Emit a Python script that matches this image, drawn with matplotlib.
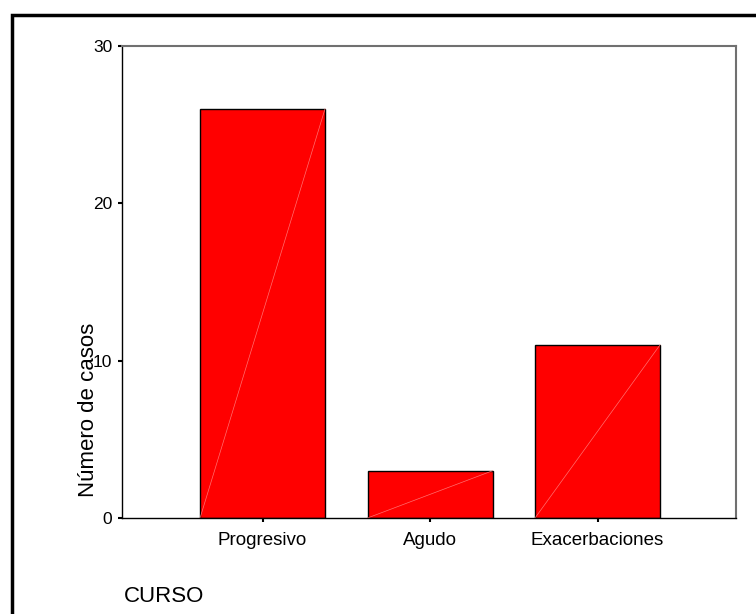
import matplotlib.pyplot as plt
from matplotlib.patches import Rectangle

categories = ['Progresivo', 'Agudo', 'Exacerbaciones']
counts = [26, 3, 11]
y_ticks = [0, 10, 20, 30]

plt.rcParams['font.family'] = ['Liberation Sans', 'DejaVu Sans']

fig = plt.figure(figsize=(7.56, 6.14), dpi=100)
ax = fig.add_axes([0.1614, 0.1564, 0.8122, 0.7687])

x = list(range(len(categories)))
width = 0.746
ax.bar(x, counts, width=width, color='#ff0000', edgecolor='black', linewidth=1)

# faint diagonal seen inside each bar
for xi, h in zip(x, counts):
    ax.plot([xi - width / 2, xi + width / 2], [0, h], color='#ff7070', linewidth=0.5)

ax.set_xlim(-0.839, 2.827)
ax.set_ylim(0, 30)
ax.set_xticks(x)
ax.set_xticklabels(categories, fontsize=13.5)
ax.set_yticks(y_ticks)
ax.set_yticklabels([str(t) for t in y_ticks], fontsize=12.5)
ax.tick_params(axis='x', length=3, width=1.5, pad=7)
ax.tick_params(axis='y', length=3, width=1.5, pad=4)

for side in ['top', 'right']:
    ax.spines[side].set_color('#707070')
    ax.spines[side].set_linewidth(1.5)
for side in ['left', 'bottom']:
    ax.spines[side].set_color('black')
    ax.spines[side].set_linewidth(1)

# label sits lower than the axis centre and overlaps the "10" tick, as in the original
fig.text(88 / 756, 1 - 410 / 614, 'Número de casos', rotation=90,
         ha='center', va='center', fontsize=16)
fig.text(124 / 756, 1 - 597 / 614, 'CURSO', ha='left', va='center', fontsize=16)

# outer frame (runs off the right and bottom edges)
fig.patches.append(Rectangle((12 / 756, -0.05), 1.0, 1 - 15 / 614 + 0.05,
                             transform=fig.transFigure, fill=False,
                             edgecolor='black', linewidth=2.5))

fig.savefig('out.png', dpi=100)
